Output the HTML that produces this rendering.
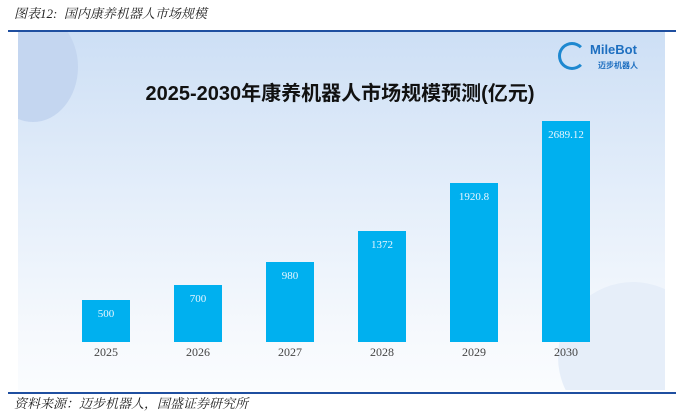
<!DOCTYPE html>
<html><head><meta charset="utf-8"><style>
body{margin:0;width:684px;height:416px;background:#fff;position:relative;overflow:hidden;font-family:"Liberation Serif","Noto Serif CJK SC",serif}
.t{position:absolute;left:14px;top:6px;font-size:13px;line-height:16px;font-style:italic;color:#222}
.line{position:absolute;left:8px;width:668px;height:2px;background:#1f4fa0}
.bg{position:absolute;left:18px;top:32px;width:647px;height:358px;background:linear-gradient(#cddff5,#e4eefa 45%,#f6f9fd 85%,#fafcfe);overflow:hidden}
.bar{position:absolute;width:48px;background:#00b0ef;color:#e8f6ff;font-size:11px;text-align:center;padding-top:8px;box-sizing:border-box}
.x{position:absolute;top:345px;width:60px;text-align:center;font-size:12px;color:#444}
.h{position:absolute;left:0;width:680px;top:77px;text-align:center;font:bold 20px "Liberation Sans","Noto Sans CJK SC",sans-serif;color:#111}
</style></head><body>
<div class="t">图表12:&nbsp; 国内康养机器人市场规模</div>
<div class="line" style="top:30px"></div>
<div class="bg">
<div style="position:absolute;left:-30px;top:-20px;width:90px;height:110px;border-radius:50%;background:#c4d6f0"></div>
<div style="position:absolute;left:540px;top:250px;width:150px;height:150px;border-radius:50%;background:#e6eef9"></div>
</div>
<div style="position:absolute;left:558px;top:42px;width:22px;height:22px;border-radius:50%;border:3px solid #1e88d0;border-right-color:transparent"></div>
<div style="position:absolute;left:590px;top:42px;font:bold 13px 'Liberation Sans',sans-serif;color:#1e6fc0">MileBot</div>
<div style="position:absolute;left:598px;top:60px;font:bold 8px 'Liberation Sans','Noto Sans CJK SC',sans-serif;color:#1e6fc0">迈步机器人</div>
<div class="h">2025-2030年康养机器人市场规模预测(亿元)</div>
<div class="bar" style="left:82px;top:300px;height:42px">500</div>
<div class="bar" style="left:174px;top:285px;height:57px">700</div>
<div class="bar" style="left:266px;top:262px;height:80px">980</div>
<div class="bar" style="left:358px;top:231px;height:111px">1372</div>
<div class="bar" style="left:450px;top:183px;height:159px">1920.8</div>
<div class="bar" style="left:542px;top:121px;height:221px">2689.12</div>
<div class="x" style="left:76px">2025</div><div class="x" style="left:168px">2026</div><div class="x" style="left:260px">2027</div>
<div class="x" style="left:352px">2028</div><div class="x" style="left:444px">2029</div><div class="x" style="left:536px">2030</div>
<div class="line" style="top:392px"></div>
<div class="t" style="top:396px">资料来源：迈步机器人，国盛证券研究所</div>
</body></html>
